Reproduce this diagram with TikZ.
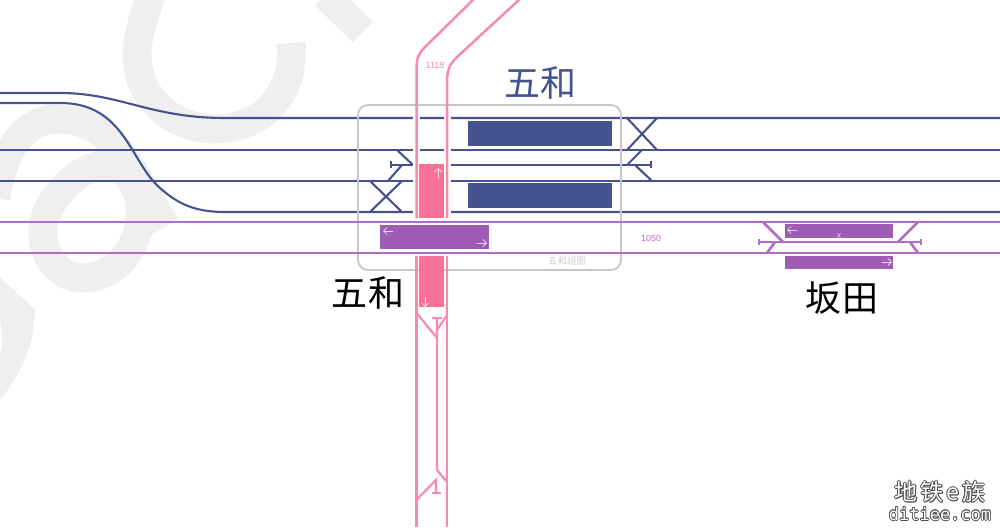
\documentclass[tikz,border=0pt]{standalone}
\usepackage{fontspec}
\usetikzlibrary{arrows.meta}
\newfontfamily\cjk{Noto Sans CJK SC}
\newfontfamily\logofont{DejaVu Sans Mono}
\setmainfont{Liberation Sans}
\definecolor{lineblue}{HTML}{44538F}
\definecolor{linepink}{HTML}{F78BA9}
\definecolor{linepurple}{HTML}{B06CC6}
\definecolor{fillpink}{HTML}{FB7097}
\definecolor{fillpurple}{HTML}{9F5CB4}
\definecolor{markgray}{HTML}{EFEFEF}
\tikzset{
    markstroke/.style={draw=markgray,line width=29pt},
    bluetrack/.style={draw=lineblue,line width=2.1pt},
    pinktrack/.style={draw=linepink,line width=2.5pt},
    purpletrack/.style={draw=linepurple,line width=2.6pt},
    casing/.style={draw=white,line width=7pt},
    dirarrow/.style={-{Straight Barb[length=3.5pt,width=7pt]},draw=white,opacity=0.75,line width=0.8pt},
    bigname/.style={font=\cjk\fontsize{36}{36}\selectfont},
    smallcode/.style={font=\fontsize{9}{9}\selectfont},
    logoname/.style={font=\cjk\fontsize{23}{23}\selectfont},
    logosite/.style={font=\logofont\fontsize{17}{17}\selectfont},
}
\begin{document}
\begin{tikzpicture}[x=1pt,y=-1pt]
    \useasboundingbox (0,0) rectangle (1000,527);

    \draw[markstroke] (152,-10) .. controls (145,15) and (137,35) .. (137,55) .. controls (137,100) and (175,129) .. (215,129) .. controls (260,129) and (296,95) .. (291,43);
    \draw[markstroke] (325,-5) -- (363,32);
    \draw[markstroke] (-4,198) .. controls (3,150) and (25,119) .. (57,119) .. controls (115,119) and (130,170) .. (166,226);
    \draw[markstroke] (43,232) .. controls (43,200) and (80,165) .. (105,165) .. controls (130,165) and (146,195) .. (138,230) .. controls (130,262) and (105,278) .. (83,278) .. controls (60,278) and (43,258) .. (43,232) -- cycle;
    \fill[markgray] (0,277) -- (35,310) .. controls (35,345) and (20,375) .. (0,400) -- (0,353) .. controls (3,340) .. (0,320) -- cycle;

    \foreach\y in {150,181}{
        \draw[bluetrack] (0,\y) -- (1000,\y);
    }
    \draw[bluetrack] (0,93) -- (60,93) .. controls (120,93) and (150,118) .. (225,118) -- (1000,118);
    \draw[bluetrack] (0,103) -- (60,103) .. controls (125,103) and (130,162) .. (160,188) .. controls (178,204) and (195,212) .. (225,212) -- (1000,212);

    \draw[bluetrack] (391,165) -- (651,165);
    \draw[bluetrack] (391,161) -- (391,168);
    \draw[bluetrack] (651,161) -- (651,168);
    \draw[bluetrack] (397,150) -- (413,165);
    \draw[bluetrack] (388,181) -- (402,165);
    \draw[bluetrack] (627,165) -- (642,150);
    \draw[bluetrack] (635,165) -- (652,181);
    \draw[bluetrack] (370,181) -- (402,212);
    \draw[bluetrack] (370,212) -- (402,181);
    \draw[bluetrack] (627,118) -- (657,150);
    \draw[bluetrack] (627,150) -- (657,118);

    \fill[lineblue] (468,121) rectangle (612,145.5);
    \fill[lineblue] (468,183) rectangle (612,207.5);

    \foreach\x in {416.5,447}{
        \draw[casing] (\x,112) -- (\x,218);
        \draw[casing] (\x,256) -- (\x,275);
    }

    \draw[draw=black!22,line width=1.8pt,rounded corners=10pt] (358,105) rectangle (621,270);

    \draw[pinktrack] (475,-2) -- (425,47) .. controls (419,53) and (416.5,58) .. (416.5,68) -- (416.5,218);
    \draw[pinktrack] (521,-2) -- (456,58) .. controls (450,64) and (447,70) .. (447,82) -- (447,218);
    \draw[pinktrack] (416.5,256) -- (416.5,527);
    \draw[pinktrack] (447,256) -- (447,527);
    \fill[fillpink] (419,164) rectangle (444,218);
    \fill[fillpink] (419,256) rectangle (444,307);
    \draw[dirarrow] (438,178) -- (438,168);
    \draw[dirarrow] (425,297) -- (425,307);

    \draw[pinktrack,line width=2.2pt] (437,318) -- (437,470) -- (447,482);
    \draw[pinktrack,line width=2.2pt] (432,318) -- (442,318);
    \draw[pinktrack,line width=2.2pt] (416.5,313) -- (437,338);
    \draw[pinktrack,line width=2.2pt] (447,315) -- (437,330);
    \draw[pinktrack,line width=2.2pt] (416.5,500) -- (436,480) -- (436,493);
    \draw[pinktrack,line width=2.2pt] (432,493) -- (441,493);

    \foreach\y in {222,253}{
        \draw[purpletrack] (0,\y) -- (1000,\y);
    }
    \draw[purpletrack] (759,242) -- (921,242);
    \draw[purpletrack] (759,239) -- (759,245);
    \draw[purpletrack] (921,239) -- (921,245);
    \draw[purpletrack] (763,222) -- (783,242);
    \draw[purpletrack] (767,253) -- (775,242);
    \draw[purpletrack] (898,242) -- (918,222);
    \draw[purpletrack] (910,242) -- (918,253);

    \fill[fillpurple] (380,225) rectangle (489,249);
    \fill[fillpurple] (785,224) rectangle (893,238);
    \fill[fillpurple] (785,256) rectangle (893,269);
    \draw[dirarrow] (393,231) -- (383,231);
    \draw[dirarrow] (477,243) -- (487,243);
    \draw[dirarrow] (797,230) -- (787,230);
    \draw[dirarrow] (882,262) -- (892,262);

    \node[bigname,text=lineblue] (namenorth) at (540.5,83) {五\hspace{1pt}和};
    \node[bigname,text=black] (namewuhe) at (368,293) {五\hspace{1pt}和};
    \node[bigname,text=black] (nametian) at (842,298) {坂\hspace{1pt}田};
    \node[smallcode,text=linepink] (codeline) at (435,65) {1118};
    \node[smallcode,text=linepurple] (codebend) at (651,238) {1050};
    \node[font=\cjk\fontsize{9.5}{10}\selectfont,text=black!20] (mapname) at (567,261) {五和组图};
    \node[smallcode,text=white,opacity=0.75] (markx) at (839,236) {x};

    \foreach\dx/\dy in {-0.8/0,0.8/0,0/-0.8,0/0.8,-0.6/-0.6,0.6/0.6,-0.6/0.6,0.6/-0.6}{
        \node[logoname,text=black!70] at (940+\dx,492+\dy) {地\hspace{3pt}铁\hspace{3pt}\textit{e}\hspace{3pt}族};
        \node[logosite,text=black!70] at (940+\dx,514+\dy) {ditiee.com};
    }
    \node[logoname,text=white] (logotitle) at (940,492) {地\hspace{3pt}铁\hspace{3pt}\textit{e}\hspace{3pt}族};
    \node[logosite,text=white] (logourl) at (940,514) {ditiee.com};
\end{tikzpicture}
\end{document}
